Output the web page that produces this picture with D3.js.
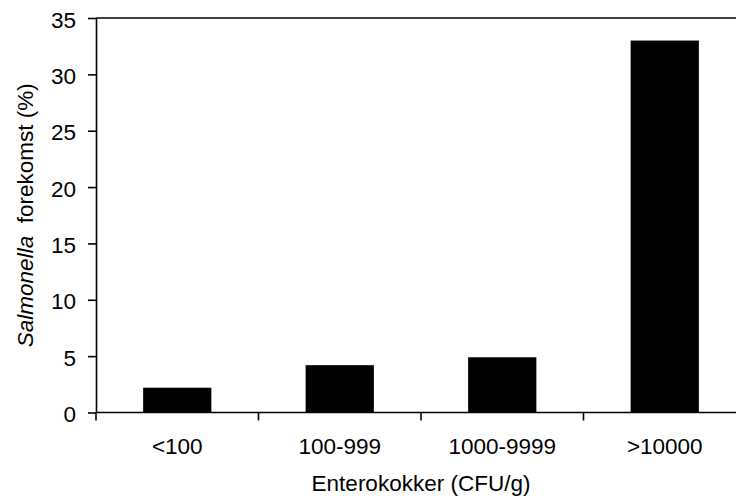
<!DOCTYPE html>
<html>
<head>
<meta charset="utf-8">
<script src="https://cdn.jsdelivr.net/npm/d3@7"></script>
<style>
  html, body { margin: 0; padding: 0; background: #fff; }
  svg { display: block; font-family: "Liberation Sans", Arial, sans-serif; }
</style>
</head>
<body>
<svg id="chart" width="736" height="497"></svg>
<script>
const categories = ["<100", "100-999", "1000-9999", ">10000"];
const values = [2.2, 4.2, 4.9, 33.0];
const yTicks = [0, 5, 10, 15, 20, 25, 30, 35];
const xTitle = "Enterokokker (CFU/g)";
const yTitleItalic = "Salmonella";
const yTitleRest = "forekomst (%)";

const svg = d3.select("#chart");
const plotLeft = 96, plotRight = 746, plotTop = 18, plotBottom = 412.5;
const fontSize = 22.5;

const x = d3.scaleBand().domain(categories).range([plotLeft, plotRight])
  .paddingInner(0.58).paddingOuter(0.29);
const y = d3.scaleLinear().domain([0, 35]).range([plotBottom, plotTop]);

// top frame line
svg.append("line")
  .attr("x1", plotLeft).attr("x2", plotRight)
  .attr("y1", y(35)).attr("y2", y(35))
  .attr("stroke", "#000").attr("stroke-width", 1.6);

// bars
svg.append("g").selectAll("rect").data(values).join("rect")
  .attr("x", (d, i) => x(categories[i]))
  .attr("width", x.bandwidth())
  .attr("y", d => y(d))
  .attr("height", d => y(0) - y(d))
  .attr("fill", "#000");

// y axis
const yAxis = svg.append("g")
  .attr("transform", `translate(${plotLeft},0)`)
  .call(d3.axisLeft(y).tickValues(yTicks).tickSize(8).tickSizeOuter(0).tickPadding(12));
yAxis.selectAll("path, line").attr("stroke", "#000").attr("stroke-width", 1.6);
yAxis.selectAll("text").attr("font-size", fontSize).attr("fill", "#000")
  .attr("font-family", "Liberation Sans, Arial, sans-serif").attr("dy", "0.4em");

// x axis line
svg.append("line")
  .attr("x1", plotLeft).attr("x2", plotRight)
  .attr("y1", y(0)).attr("y2", y(0))
  .attr("stroke", "#000").attr("stroke-width", 1.6);

// x boundary ticks
const step = x.step();
const boundaries = categories.map(c => x(c) - step * x.paddingInner() / 2)
  .concat([x(categories[categories.length - 1]) + x.bandwidth() + step * x.paddingInner() / 2]);
svg.append("g").selectAll("line").data(boundaries).join("line")
  .attr("x1", d => d).attr("x2", d => d)
  .attr("y1", y(0)).attr("y2", y(0) + 8)
  .attr("stroke", "#000").attr("stroke-width", 1.6);

// x tick labels
svg.append("g").selectAll("text").data(categories).join("text")
  .attr("x", d => x(d) + x.bandwidth() / 2)
  .attr("y", y(0) + 41)
  .attr("text-anchor", "middle")
  .attr("font-size", fontSize)
  .attr("fill", "#000")
  .text(d => d);

// x title
svg.append("text")
  .attr("x", (plotLeft + plotRight) / 2)
  .attr("y", 490.5)
  .attr("text-anchor", "middle")
  .attr("font-size", fontSize)
  .attr("fill", "#000")
  .text(xTitle);

// y title
const yt = svg.append("text")
  .attr("transform", `translate(33,${(plotTop + plotBottom) / 2}) rotate(-90)`)
  .attr("text-anchor", "middle")
  .attr("font-size", fontSize)
  .attr("fill", "#000");
yt.append("tspan").attr("font-style", "italic").text(yTitleItalic);
yt.append("tspan").text("\u00a0 " + yTitleRest);
</script>
</body>
</html>
